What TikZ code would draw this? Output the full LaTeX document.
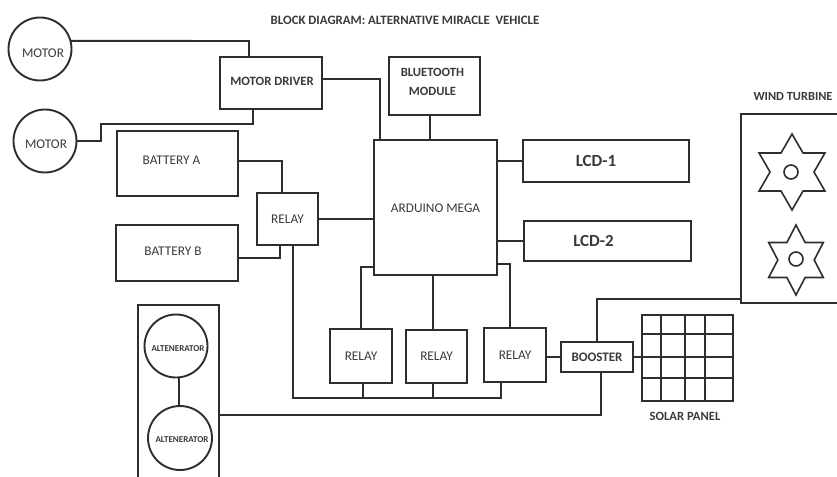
\documentclass[tikz,border=0pt]{standalone}
\usepackage{fontspec}
\setmainfont{Carlito}
\usetikzlibrary{shapes.geometric}
\definecolor{ink}{HTML}{2E2E2E}
\definecolor{txt}{HTML}{3A3A3A}
\newcommand{\fsz}[1]{\fontsize{#1}{#1}\selectfont}
\tikzset{
  wire/.style={draw=ink,line width=1.9pt,line join=miter},
  boxnode/.style={draw=ink,line width=1.9pt,fill=white,inner sep=0pt,outer sep=0pt,anchor=north west,align=center,text=txt,font=\fsz{13.3}},
  ring/.style={draw=ink,line width=1.9pt,fill=white,circle,inner sep=0pt,outer sep=0pt,text=txt,font=\fsz{13.3}},
  plain/.style={inner sep=0pt,outer sep=0pt,text=txt,align=center,font=\fsz{13.3}},
  heavy/.style={plain,font=\fsz{13}\bfseries},
  altlabel/.style={plain,font=\fsz{9}\bfseries},
  bladestar/.style={draw=ink,line width=1.6pt,star,star points=6,star point ratio=1.73,inner sep=0pt,outer sep=0pt},
  hub/.style={draw=ink,line width=1.6pt,circle,inner sep=0pt,outer sep=0pt}
}
\begin{document}
\begin{tikzpicture}[x=1pt,y=-1pt]
\useasboundingbox (0,0) rectangle (837,476);
\node[heavy,font=\fsz{12.8}\bfseries] (title) at (405,20) {BLOCK DIAGRAM: ALTERNATIVE MIRACLE\ \ VEHICLE};

% circles
\node[ring,minimum size=63pt,label={[plain,xshift=3pt,yshift=-4pt]center:MOTOR}] (m1) at (40,49) {};
\node[ring,minimum size=63pt,label={[plain,xshift=1pt,yshift=-3pt]center:MOTOR}] (m2) at (45,141) {};

% boxes
\node[boxnode,minimum width=102pt,minimum height=52pt,label={[heavy,font=\fsz{12.7}\bfseries,xshift=1pt,yshift=2pt]center:MOTOR DRIVER}] (driver) at (220,57) {};
\node[boxnode,minimum width=91pt,minimum height=58pt,label={[heavy,font=\fsz{12.6}\bfseries,xshift=-2pt,yshift=4pt]center:BLUETOOTH\\[6pt]MODULE}] (bt) at (389,57) {};
\node[boxnode,minimum width=121pt,minimum height=65pt,label={[plain,xshift=-6pt,yshift=3pt]center:BATTERY A}] (batA) at (117,131) {};
\node[boxnode,minimum width=122pt,minimum height=56pt,label={[plain,xshift=-4pt,yshift=2pt]center:BATTERY B}] (batB) at (116,225) {};
\node[boxnode,minimum width=61pt,minimum height=52pt] (relay) at (257,193) {RELAY};
\node[boxnode,minimum width=123pt,minimum height=135pt,label={[plain,yshift=-1pt]center:ARDUINO MEGA}] (ard) at (374,140) {};
\node[boxnode,minimum width=166pt,minimum height=42pt,label={[heavy,font=\fsz{17}\bfseries,xshift=-10pt]center:LCD-1}] (lcdA) at (523,140) {};
\node[boxnode,minimum width=167pt,minimum height=40pt,label={[heavy,font=\fsz{17}\bfseries,xshift=-14pt]center:LCD-2}] (lcdB) at (524,221) {};
\node[boxnode,minimum width=62pt,minimum height=54pt] (r1) at (330,329) {RELAY};
\node[boxnode,minimum width=61pt,minimum height=53pt] (r2) at (406,330) {RELAY};
\node[boxnode,minimum width=62pt,minimum height=54pt] (r3) at (484,328) {RELAY};
\node[boxnode,minimum width=72pt,minimum height=30pt,font=\fsz{13}\bfseries] (boost) at (561,342) {BOOSTER};

% solar panel
\node[boxnode,minimum width=91pt,minimum height=86pt] (solar) at (642,315) {};
\node[heavy,font=\fsz{12.6}\bfseries] (solarlab) at (685,416) {SOLAR PANEL};
\foreach \gx in {661,685,705} \draw[wire] (\gx,315) -- (\gx,401);
\foreach \gy in {334,357,378} \draw[wire] (642,\gy) -- (733,\gy);

% wind turbine: box runs off the right edge
\node[inner sep=0pt,outer sep=0pt,anchor=north west,minimum width=96pt,minimum height=189pt] (wind) at (741,114) {};
\draw[wire] (wind.north east) -- (wind.north west) -- (wind.south west) -- (wind.south east);
\node[heavy,font=\fsz{12.4}\bfseries] (windlab) at (793,97) {WIND TURBINE};
\node[bladestar,minimum size=76pt] (s1) at (792,172) {};
\node[hub,minimum width=13pt,minimum height=14pt] (h1) at (791,172) {};
\node[bladestar,minimum size=70pt,xscale=0.9] (s2) at (796,260) {};
\node[hub,minimum width=11pt,minimum height=14pt] (h2) at (796,259) {};

% alternators: box runs off the bottom edge
\node[inner sep=0pt,outer sep=0pt,anchor=north west,minimum width=81pt,minimum height=172pt] (altbox) at (138,305) {};
\draw[wire] (altbox.south west) -- (altbox.north west) -- (altbox.north east) -- (altbox.south east);
\node[ring,minimum size=63pt,label={[altlabel,xshift=2pt,yshift=-3pt]center:ALTENERATOR}] (a1) at (176,346) {};
\node[ring,minimum size=64pt,label={[altlabel,xshift=2pt,yshift=-2pt]center:ALTENERATOR}] (a2) at (180,438) {};
\coordinate (jalt) at (179,392);
\draw[wire] (a1.south -| jalt) -- (a2.north -| jalt);

% junction coordinates
\coordinate (jm1) at (249,41);
\coordinate (jm2a) at (253,124);
\coordinate (jm2b) at (101,124);
\coordinate (jdr) at (380,79);
\coordinate (jbt) at (430,115);
\coordinate (jbA) at (282,161);
\coordinate (jbB) at (280,258);
\coordinate (jr) at (293,398);
\coordinate (jr1a) at (361,267);
\coordinate (ja3) at (510,264);
\coordinate (jr1b) at (363,398);
\coordinate (jr2b) at (433,398);
\coordinate (jr3b) at (501,398);
\coordinate (jbu) at (597,299);
\coordinate (jbd) at (601,415);

% connectors
\draw[wire] (m1.15) -- (jm1) -- (driver.north -| jm1);
\draw[wire] (driver.south -| jm2a) -- (jm2a) -- (jm2b) -- (jm2b |- m2.east) -- (m2.east);
\draw[wire] (driver.east |- jdr) -- (jdr) -- (ard.north -| jdr);
\draw[wire] (bt.south -| jbt) -- (ard.north -| jbt);
\draw[wire] (batA.east |- jbA) -- (jbA) -- (relay.north -| jbA);
\draw[wire] (batB.east |- jbB) -- (jbB) -- (relay.south -| jbB);
\draw[wire] (relay.east) -- (ard.west |- relay.east);
\draw[wire] (relay.south -| jr) -- (jr) -- (jr3b) -- (r3.south -| jr3b);
\draw[wire] (jr1b) -- (r1.south -| jr1b);
\draw[wire] (jr2b) -- (r2.south -| jr2b);
\draw[wire] (ard.east |- lcdA.west) -- (lcdA.west);
\draw[wire] (ard.east |- lcdB.west) -- (lcdB.west);
\draw[wire] (ard.west |- jr1a) -- (jr1a) -- (r1.north -| jr1a);
\draw[wire] (ard.south -| jr2b) -- (r2.north -| jr2b);
\draw[wire] (ard.east |- ja3) -- (ja3) -- (r3.north -| ja3);
\draw[wire] (r3.east |- boost.west) -- (boost.west);
\draw[wire] (boost.north -| jbu) -- (jbu) -- (wind.west |- jbu);
\draw[wire] (boost.south -| jbd) -- (jbd) -- (altbox.east |- jbd);
\draw[wire] (boost.east) -- (solar.west |- boost.east);
\end{tikzpicture}
\end{document}
